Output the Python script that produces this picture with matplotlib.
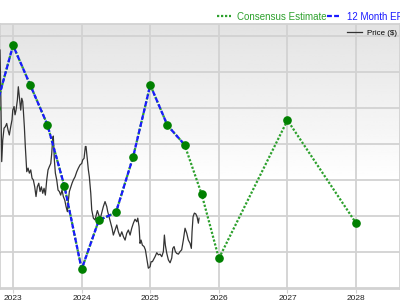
import matplotlib
matplotlib.use('Agg')
import matplotlib.pyplot as plt
from matplotlib.lines import Line2D
import numpy as np

plt.rcParams['font.family'] = ['Liberation Sans', 'DejaVu Sans']

# 12 month EPS (reported), quarterly, decimal years
eps_dates = [2022.75, 2023.0, 2023.25, 2023.5, 2023.75, 2024.0, 2024.25,
             2024.5, 2024.75, 2025.0, 2025.25, 2025.5]
eps_vals = [3.50, 4.37, 3.82, 3.27, 2.41, 1.26, 1.94, 2.05, 2.82, 3.82, 3.26, 2.99]

# consensus estimate (forward)
est_dates = [2025.5, 2025.75, 2026.0, 2027.0, 2028.0]
est_vals = [2.99, 2.30, 1.41, 3.33, 1.90]

# weekly-ish share price
price_dates = [2022.810, 2022.821, 2022.835, 2022.850, 2022.869, 2022.888, 2022.908,
               2022.927, 2022.946, 2022.966, 2022.985, 2022.996, 2023.015, 2023.029,
               2023.044, 2023.063, 2023.077, 2023.092, 2023.102, 2023.112, 2023.127,
               2023.141, 2023.150, 2023.165, 2023.179, 2023.200, 2023.219, 2023.238,
               2023.258, 2023.277, 2023.296, 2023.316, 2023.335, 2023.354, 2023.375,
               2023.394, 2023.413, 2023.433, 2023.452, 2023.471, 2023.491, 2023.510,
               2023.529, 2023.550, 2023.564, 2023.579, 2023.587, 2023.602, 2023.617,
               2023.637, 2023.656, 2023.675, 2023.695, 2023.714, 2023.733, 2023.754,
               2023.773, 2023.792, 2023.802, 2023.821, 2023.860, 2023.879, 2023.904,
               2023.929, 2023.952, 2023.977, 2024.001, 2024.016, 2024.035, 2024.054,
               2024.064, 2024.083, 2024.098, 2024.112, 2024.133, 2024.147, 2024.171,
               2024.195, 2024.229, 2024.254, 2024.273, 2024.316, 2024.341, 2024.366,
               2024.380, 2024.404, 2024.424, 2024.443, 2024.462, 2024.487, 2024.512,
               2024.535, 2024.560, 2024.585, 2024.608, 2024.633, 2024.657, 2024.681,
               2024.706, 2024.730, 2024.754, 2024.778, 2024.803, 2024.818, 2024.837,
               2024.851, 2024.866, 2024.885, 2024.910, 2024.929, 2024.949, 2024.972,
               2024.997, 2025.012, 2025.031, 2025.045, 2025.070, 2025.095, 2025.118,
               2025.143, 2025.168, 2025.191, 2025.206, 2025.220, 2025.241, 2025.264,
               2025.289, 2025.313, 2025.328, 2025.347, 2025.366, 2025.386, 2025.410,
               2025.434, 2025.458, 2025.482, 2025.507, 2025.532, 2025.555, 2025.580,
               2025.599, 2025.609, 2025.624, 2025.643, 2025.663, 2025.682, 2025.701,
               2025.711]
price_vals = [86.1, 75.0, 55.1, 61.1, 64.4, 64.8, 65.7, 63.9, 62.5, 64.8, 66.7, 69.4,
              70.4, 68.1, 69.4, 72.2, 75.9, 73.1, 71.3, 69.4, 72.7, 71.8, 69.4, 64.8,
              59.3, 52.3, 53.3, 51.9, 52.8, 50.5, 50.0, 48.1, 45.4, 48.1, 49.1, 46.8,
              48.1, 46.3, 47.7, 45.8, 50.0, 52.8, 53.7, 54.6, 57.4, 61.6, 62.2, 55.6,
              51.9, 50.0, 47.2, 46.8, 45.8, 47.2, 45.4, 44.4, 42.6, 41.2, 43.5, 46.8,
              49.1, 50.0, 50.9, 52.3, 53.3, 54.2, 54.6, 55.6, 56.0, 59.3, 59.3, 55.6,
              52.8, 50.9, 46.3, 41.7, 39.4, 38.9, 41.5, 40.0, 39.4, 42.6, 44.0, 42.6,
              41.2, 39.4, 38.0, 36.6, 34.7, 36.1, 37.5, 35.6, 34.3, 35.6, 34.3, 33.3,
              35.2, 36.1, 34.7, 36.6, 38.0, 39.1, 38.4, 39.4, 37.0, 32.4, 33.3, 31.9,
              31.5, 30.6, 28.3, 25.5, 25.9, 27.3, 27.3, 27.8, 28.7, 29.8, 29.2, 29.4,
              28.7, 30.1, 34.7, 31.9, 29.6, 27.8, 27.0, 28.3, 31.0, 31.5, 30.1, 29.6,
              29.4, 30.1, 30.6, 33.3, 36.6, 35.2, 33.3, 32.4, 31.0, 35.6, 39.8, 40.8,
              40.6, 39.8, 38.0, 39.4]

years = [2023, 2024, 2025, 2026, 2027, 2028]
price_grid = [20, 30, 40, 50, 60, 70, 80, 90]

GREEN = '#008000'
EST_GREEN = '#2ca02c'
BLUE = '#1a1aff'
GRID = '#d2d2d2'

fig = plt.figure(figsize=(4, 3), dpi=100)
ax = fig.add_axes([0.0, 0.0367, 1.0, 0.8833])
xlim = (2022.81, 2028.64)
ax.set_xlim(*xlim)
ax.set_ylim(19.72, 93.33)

# gray-to-white background
grad = np.concatenate([np.linspace(0.89, 1.0, 60), np.ones(40)])[::-1].reshape(-1, 1)
ax.imshow(grad, cmap='gray', vmin=0, vmax=1, aspect='auto',
          extent=(xlim[0], xlim[1], 19.72, 93.33), origin='lower', zorder=0)

ax.set_xticks(years)
ax.set_xticklabels([str(y) for y in years])
ax.set_yticks(price_grid)
ax.tick_params(axis='x', labelsize=6, length=3, color=GRID, pad=1, labelcolor='#222222')
ax.tick_params(axis='y', left=False, labelleft=False)
ax.grid(True, color=GRID, linewidth=1.3, zorder=1)
ax.set_axisbelow(True)
for s in ax.spines.values():
    s.set_color(GRID)
    s.set_linewidth(1.3)

ax.plot(price_dates, price_vals, color='#333333', linewidth=0.9, zorder=3,
        label='Price ($)')
ax.legend(loc='center left', bbox_to_anchor=(0.868, 0.966), frameon=False,
          fontsize=5.7, handlelength=1.9, handletextpad=0.6, borderpad=0,
          borderaxespad=0)

ax_eps = ax.twinx()
ax_eps.set_ylim(0.986, 4.667)
ax_eps.set_yticks([])
for s in ax_eps.spines.values():
    s.set_visible(False)

all_dates = eps_dates + est_dates[1:]
all_vals = eps_vals + est_vals[1:]
ax_eps.plot(all_dates, all_vals, color=EST_GREEN, linestyle=(0, (1, 0.8)),
            linewidth=1.6, zorder=2)
ax_eps.plot(eps_dates, eps_vals, color=BLUE, linestyle=(0, (2.2, 1.0)),
            linewidth=1.6, zorder=3)
ax_eps.plot(all_dates, all_vals, linestyle='none', marker='o', markersize=5.2,
            color=GREEN, zorder=4)

handles = [Line2D([], [], color=EST_GREEN, linestyle=(0, (1, 0.8)), linewidth=1.6),
           Line2D([], [], color=BLUE, linestyle=(0, (2.2, 1.0)), linewidth=1.6)]
fig.legend(handles, ['Consensus Estimate', '12 Month EPS'], loc='center left',
           bbox_to_anchor=(0.543, 0.944), ncol=2, frameon=False, fontsize=7,
           handlelength=1.45, handletextpad=0.55, columnspacing=0.1,
           borderpad=0, borderaxespad=0, labelcolor=[EST_GREEN, BLUE])

fig.savefig('out.png', dpi=100)
